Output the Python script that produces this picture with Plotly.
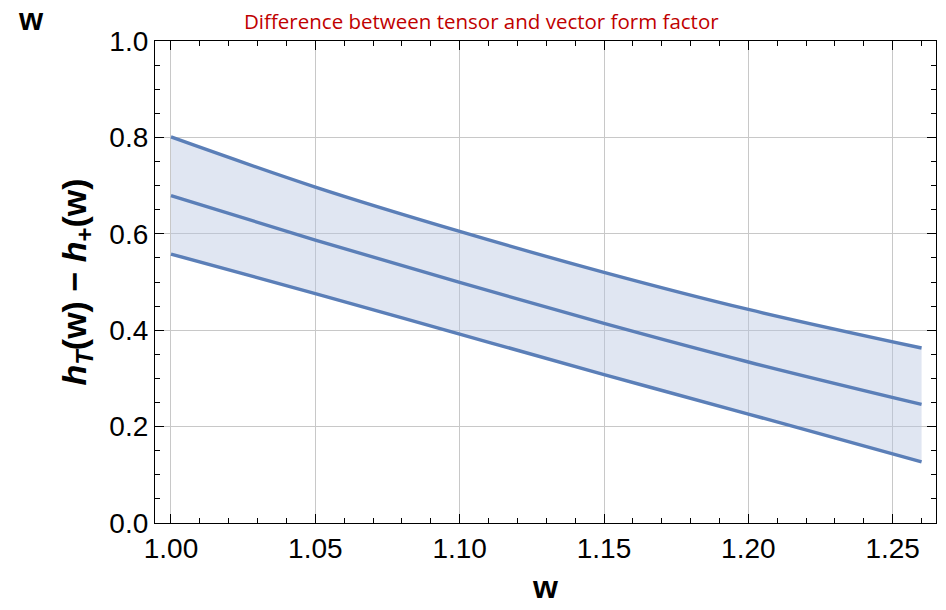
import plotly.graph_objects as go

w = [1.00, 1.05, 1.10, 1.15, 1.20, 1.26]
upper = [0.801, 0.697, 0.605, 0.520, 0.443, 0.363]
middle = [0.679, 0.587, 0.499, 0.414, 0.334, 0.246]
lower = [0.558, 0.476, 0.392, 0.308, 0.226, 0.127]

x_ticks = [1.00, 1.05, 1.10, 1.15, 1.20, 1.25]
x_ticklabels = ["1.00", "1.05", "1.10", "1.15", "1.20", "1.25"]
y_ticks = [0.0, 0.2, 0.4, 0.6, 0.8, 1.0]
y_ticklabels = ["0.0", "0.2", "0.4", "0.6", "0.8", "1.0"]

line_color = "#5b7fb8"
fill_color = "rgba(180,195,225,0.42)"

fig = go.Figure()
fig.add_trace(go.Scatter(x=w, y=lower, mode="lines", line=dict(color=line_color, width=3.4, shape="spline", smoothing=1.0),
                         showlegend=False, hoverinfo="skip"))
fig.add_trace(go.Scatter(x=w, y=upper, mode="lines", line=dict(color=line_color, width=3.4, shape="spline", smoothing=1.0),
                         fill="tonexty", fillcolor=fill_color, showlegend=False, hoverinfo="skip"))
fig.add_trace(go.Scatter(x=w, y=middle, mode="lines", line=dict(color=line_color, width=3.4, shape="spline", smoothing=1.0),
                         showlegend=False, hoverinfo="skip"))

axis_common = dict(
    showline=True, linecolor="black", linewidth=1.2, mirror="allticks",
    ticks="inside", ticklen=9, tickwidth=1, tickcolor="black",
    showgrid=True, gridcolor="#c8c8c8", gridwidth=1, zeroline=False,
    tickfont=dict(family="Liberation Sans, Arial", size=28, color="black"),
)

fig.update_xaxes(range=[0.99446, 1.265], tickvals=x_ticks, ticktext=x_ticklabels,
                 minor=dict(dtick=0.01, tick0=1.0, ticks="inside", ticklen=5, tickcolor="black", showgrid=False),
                 title=dict(text="<b>w</b>", font=dict(family="Liberation Sans, Arial", size=32, color="black"), standoff=12),
                 **axis_common)
fig.update_yaxes(range=[0, 1], tickvals=y_ticks, ticktext=y_ticklabels,
                 minor=dict(dtick=0.05, tick0=0, ticks="inside", ticklen=5, tickcolor="black", showgrid=False),
                 title=dict(text="<b><i>h</i><sub><i>T</i></sub>(w) \u2212 <i>h</i><sub>+</sub>(w)</b>",
                            font=dict(family="Liberation Sans, Arial", size=34, color="black"), standoff=12),
                 **axis_common)

fig.update_layout(
    width=946, height=610,
    margin=dict(l=155, r=10, t=41, b=87),
    paper_bgcolor="white", plot_bgcolor="white",
    annotations=[
        dict(text="Difference between tensor and vector form factor", xref="paper", yref="paper",
             x=0.418, y=1.0, xanchor="center", yanchor="bottom", yshift=4, showarrow=False,
             font=dict(family="Open Sans, Noto Sans", size=20.5, color="#c00000")),
        dict(text="<b>w</b>", xref="paper", yref="paper", x=-0.178, y=1.0, xanchor="left", yanchor="bottom",
             yshift=2, showarrow=False, font=dict(family="Liberation Sans, Arial", size=31, color="black")),
    ],
)

fig.write_html("out.html")
